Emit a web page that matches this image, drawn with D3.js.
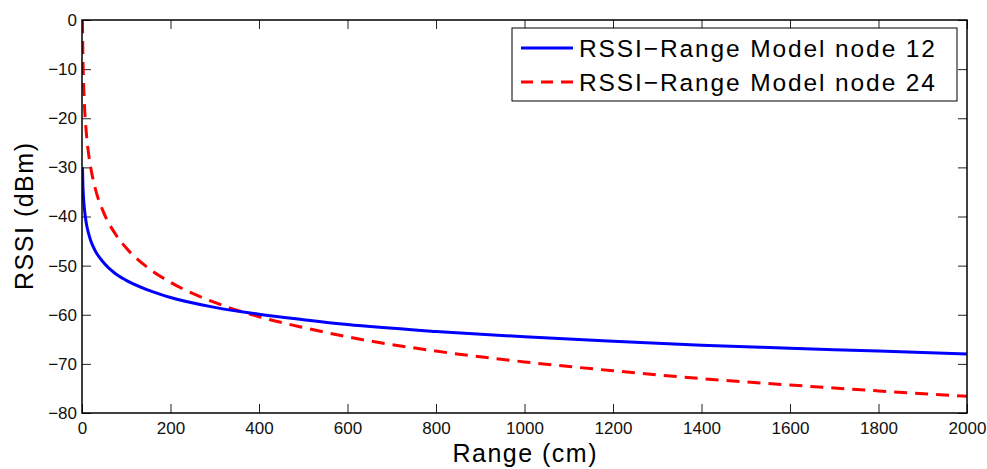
<!DOCTYPE html>
<html>
<head>
<meta charset="utf-8">
<script src="https://cdn.jsdelivr.net/npm/d3@7"></script>
<style>
  body { margin: 0; background: #fff; }
  svg { display: block; font-family: "Liberation Sans", Arial, sans-serif; }
</style>
</head>
<body>
<div id="chart"></div>
<script>
// range in cm
var ranges = [1, 2, 3, 5, 10, 15, 20, 30, 50, 75, 100, 150, 200, 300, 400, 500, 600, 800, 1000, 1200, 1400, 1600, 1800, 2000];
var node12 = [-30, -33.5, -35.5, -38, -41.5, -43.5, -45, -47, -49.5, -51.6, -53, -55, -56.5, -58.5, -59.9, -61, -62, -63.4, -64.5, -65.4, -66.2, -66.8, -67.4, -68];
var node24 = [0, -7, -11.1, -16.2, -23.2, -27.3, -30.2, -34.3, -39.4, -43.5, -46.4, -50.5, -53.4, -57.5, -60.4, -62.6, -64.5, -67.4, -69.6, -71.4, -73, -74.3, -75.5, -76.6];
var xTicks = [0, 200, 400, 600, 800, 1000, 1200, 1400, 1600, 1800, 2000];
var yTicks = [0, -10, -20, -30, -40, -50, -60, -70, -80];
var seriesNames = ["RSSI\u2212Range Model node 12", "RSSI\u2212Range Model node 24"];

var width = 987,
    height = 469,
    margin = {top: 20, right: 20, bottom: 56, left: 82};
var w = width - margin.left - margin.right,
    h = height - margin.top - margin.bottom;

var x = d3.scaleLinear().domain([0, 2000]).range([0, w]);
var y = d3.scaleLinear().domain([-80, 0]).range([h, 0]);

var svg = d3.select("#chart").append("svg")
    .attr("width", width)
    .attr("height", height);

var g = svg.append("g")
    .attr("transform", "translate(" + margin.left + "," + margin.top + ")");

// clip so the curves stay inside the box
g.append("clipPath").attr("id", "clip")
  .append("rect").attr("width", w).attr("height", h);

var fmt = function(d) { return d < 0 ? "\u2212" + Math.abs(d) : d; };

// axes, ticks pointing inward like matlab
var xBottom = g.append("g")
    .attr("transform", "translate(0," + h + ")")
    .call(d3.axisBottom(x).tickValues(xTicks).tickSizeInner(-9).tickSizeOuter(0).tickPadding(9).tickFormat(fmt));
var xTop = g.append("g")
    .call(d3.axisTop(x).tickValues(xTicks).tickSizeInner(-9).tickSizeOuter(0).tickFormat(""));
var yLeft = g.append("g")
    .call(d3.axisLeft(y).tickValues(yTicks).tickSizeInner(-9).tickSizeOuter(0).tickPadding(5).tickFormat(fmt));
var yRight = g.append("g")
    .attr("transform", "translate(" + w + ",0)")
    .call(d3.axisRight(y).tickValues(yTicks).tickSizeInner(-9).tickSizeOuter(0).tickFormat(""));

[xBottom, xTop, yLeft, yRight].forEach(function(a) {
  a.select(".domain").remove();
  a.selectAll("line").attr("stroke", "#222").attr("stroke-width", 1);
  a.selectAll("text").attr("fill", "#111").style("font-size", "17px");
});

function makeLine(vals) {
  return d3.line()
    .x(function(d, i) { return x(ranges[i]); })
    .y(function(d) { return y(d); })
    .curve(d3.curveMonotoneX)(vals);
}

g.append("path")
  .attr("d", makeLine(node24))
  .attr("clip-path", "url(#clip)")
  .attr("fill", "none")
  .attr("stroke", "#ff0000")
  .attr("stroke-width", 3)
  .attr("stroke-dasharray", "13,8");

g.append("path")
  .attr("d", makeLine(node12))
  .attr("clip-path", "url(#clip)")
  .attr("fill", "none")
  .attr("stroke", "#0000ff")
  .attr("stroke-width", 3);

// box
g.append("rect")
  .attr("width", w)
  .attr("height", h)
  .attr("fill", "none")
  .attr("stroke", "#000")
  .attr("stroke-width", 1.5);

// axis labels
svg.append("text")
  .attr("x", margin.left + w / 2)
  .attr("y", 462)
  .attr("text-anchor", "middle")
  .attr("textLength", 144)
  .style("font-size", "25px")
  .text("Range (cm)");

svg.append("text")
  .attr("transform", "translate(33," + (margin.top + h / 2) + ") rotate(-90)")
  .attr("text-anchor", "middle")
  .attr("textLength", 147)
  .style("font-size", "25px")
  .text("RSSI (dBm)");

// legend
var leg = svg.append("g").attr("transform", "translate(512,28)");
leg.append("rect")
  .attr("width", 445)
  .attr("height", 73)
  .attr("fill", "#fff")
  .attr("stroke", "#000")
  .attr("stroke-width", 1);

var legColors = ["#0000ff", "#ff0000"];
var legDash = [null, "12,8"];
seriesNames.forEach(function(name, i) {
  var yy = 20 + i * 34;
  leg.append("line")
    .attr("x1", 9).attr("x2", 61)
    .attr("y1", yy).attr("y2", yy)
    .attr("stroke", legColors[i])
    .attr("stroke-width", 3)
    .attr("stroke-dasharray", legDash[i]);
  leg.append("text")
    .attr("x", 67)
    .attr("y", yy + 9)
    .attr("textLength", 356)
    .style("font-size", "24.5px")
    .text(name);
});
</script>
</body>
</html>
